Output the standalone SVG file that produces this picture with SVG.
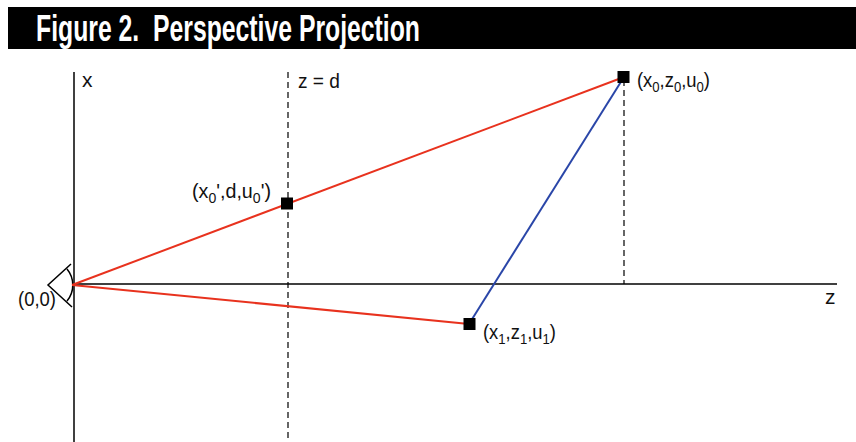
<svg xmlns="http://www.w3.org/2000/svg" width="856" height="442" viewBox="0 0 856 442">
<style>
.lbl{font-family:"Liberation Sans","DejaVu Sans",sans-serif;font-size:21px;fill:#111}
.sub{font-size:15px}
.axis{stroke:#000;stroke-width:1.5;fill:none}
.dash{stroke:#000;stroke-width:1.2;stroke-dasharray:6 4;fill:none}
.red{stroke:#e8321e;stroke-width:2;fill:none}
.blue{stroke:#2a46a8;stroke-width:2;fill:none}
.pt{fill:#000}
</style>
<rect width="856" height="442" fill="#fff"/>
<g id="title">
<rect x="8" y="7" width="848" height="42" fill="#000"/>
<text x="36" y="41" font-family="Liberation Sans, sans-serif" font-weight="bold" font-size="36" fill="#fff" textLength="384" lengthAdjust="spacingAndGlyphs" xml:space="preserve">Figure 2.  Perspective Projection</text>
</g>
<g id="axes">
<line class="axis" x1="74" y1="72" x2="74" y2="442"/>
<line class="axis" x1="74" y1="284" x2="837" y2="284"/>
<line class="dash" x1="288" y1="72" x2="288" y2="442"/>
<line class="dash" x1="624" y1="80" x2="624" y2="284"/>
<path class="axis" stroke-width="1.2" d="M71,264 L48,285 L72,307 M67,269 A25,25 0 0 1 67,301"/>
</g>
<g id="connectors">
<line class="red" x1="72" y1="285" x2="624" y2="77"/>
<line class="red" x1="72" y1="285" x2="469" y2="324"/>
<line class="blue" x1="469" y1="324" x2="624" y2="77"/>
</g>
<g id="p0prime">
<rect class="pt" x="281" y="197.5" width="12" height="12"/>
<text class="lbl" x="192" y="198" textLength="79" lengthAdjust="spacingAndGlyphs">(x<tspan class="sub" dy="5">0</tspan><tspan dy="-5">',d,u</tspan><tspan class="sub" dy="5">0</tspan><tspan dy="-5">')</tspan></text>
</g>
<g id="p0">
<rect class="pt" x="617.5" y="71" width="12" height="12"/>
<text class="lbl" x="637" y="87" textLength="73" lengthAdjust="spacingAndGlyphs">(x<tspan class="sub" dy="5">0</tspan><tspan dy="-5">,z</tspan><tspan class="sub" dy="5">0</tspan><tspan dy="-5">,u</tspan><tspan class="sub" dy="5">0</tspan><tspan dy="-5">)</tspan></text>
</g>
<g id="p1">
<rect class="pt" x="463.5" y="318" width="12" height="12"/>
<text class="lbl" x="483" y="339" textLength="73" lengthAdjust="spacingAndGlyphs">(x<tspan class="sub" dy="5">1</tspan><tspan dy="-5">,z</tspan><tspan class="sub" dy="5">1</tspan><tspan dy="-5">,u</tspan><tspan class="sub" dy="5">1</tspan><tspan dy="-5">)</tspan></text>
</g>
<g id="labels">
<text class="lbl" x="82" y="87">x</text>
<text class="lbl" x="298" y="88" textLength="42" lengthAdjust="spacingAndGlyphs">z = d</text>
<text class="lbl" x="825" y="304">z</text>
<text class="lbl" x="18" y="306" textLength="38" lengthAdjust="spacingAndGlyphs">(0,0)</text>
</g>
</svg>
